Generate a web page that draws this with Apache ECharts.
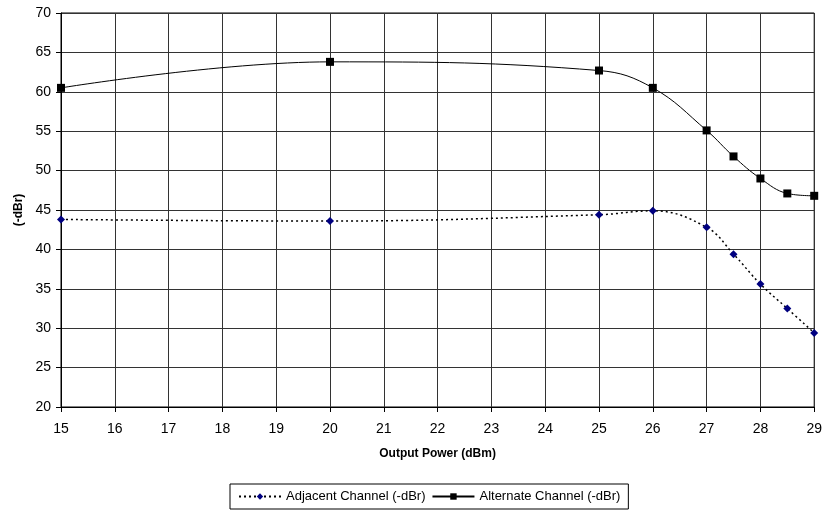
<!DOCTYPE html>
<html><head><meta charset="utf-8">
<script src="https://cdn.jsdelivr.net/npm/echarts@6/dist/echarts.min.js"></script>
<style>html,body{margin:0;padding:0;background:#fff}#c{width:825px;height:512px}</style>
</head><body><div id="c"></div>
<script>
const xValues = [15, 20, 25, 26, 27, 27.5, 28, 28.5, 29];
const adjacent = [43.8, 43.6, 44.4, 44.9, 42.8, 39.4, 35.6, 32.5, 29.4];
const alternate = [60.5, 63.8, 62.7, 60.5, 55.1, 51.8, 49.0, 47.1, 46.8];
const seriesNames = ['Adjacent Channel (-dBr)', 'Alternate Channel (-dBr)'];
const xTitle = 'Output Power (dBm)';
const yTitle = '(-dBr)';

const chart = echarts.init(document.getElementById('c'), null, {renderer: 'canvas'});
const font = 'Liberation Sans, Arial, sans-serif';
chart.setOption({
  animation: false,
  grid: {left: 61, right: 8, top: 13, bottom: 105, containLabel: false, show: true, borderColor: '#000', borderWidth: 1},
  xAxis: {
    type: 'value', min: 15, max: 29, interval: 1,
    name: xTitle, nameLocation: 'middle', nameGap: 41,
    nameTextStyle: {fontFamily: font, fontSize: 12, fontWeight: 'bold', color: '#000'},
    axisLine: {show: true, lineStyle: {color: '#000'}},
    axisTick: {show: true, length: 5, inside: false, lineStyle: {color: '#000'}},
    axisLabel: {fontFamily: font, fontSize: 14, color: '#000', margin: 15},
    splitLine: {show: true, lineStyle: {color: '#333', width: 1}}
  },
  yAxis: {
    type: 'value', min: 20, max: 70, interval: 5,
    name: yTitle, nameLocation: 'middle', nameGap: 35, nameRotate: 90,
    nameTextStyle: {fontFamily: font, fontSize: 12, fontWeight: 'bold', color: '#000'},
    axisLine: {show: true, lineStyle: {color: '#000'}},
    axisTick: {show: true, length: 5, lineStyle: {color: '#000'}},
    axisLabel: {fontFamily: font, fontSize: 14, color: '#000', margin: 10},
    splitLine: {show: true, lineStyle: {color: '#333', width: 1}}
  },
  legend: {
    bottom: 3, left: 230,
    borderColor: '#000', borderWidth: 1, borderRadius: 0,
    padding: [6, 8, 6, 8], itemGap: 6, itemWidth: 42, itemHeight: 8,
    textStyle: {fontFamily: font, fontSize: 13, color: '#000'},
    data: seriesNames
  },
  series: [
    {
      name: seriesNames[0], type: 'line', smooth: 0.4,
      data: xValues.map((x, i) => [x, adjacent[i]]),
      symbol: 'diamond', symbolSize: 8,
      itemStyle: {color: '#000080'},
      lineStyle: {color: '#000', width: 1.5, type: [2, 3]}
    },
    {
      name: seriesNames[1], type: 'line', smooth: 0.4,
      data: xValues.map((x, i) => [x, alternate[i]]),
      symbol: 'rect', symbolSize: 8,
      itemStyle: {color: '#000'},
      lineStyle: {color: '#000', width: 1}
    }
  ]
});
</script></body></html>
